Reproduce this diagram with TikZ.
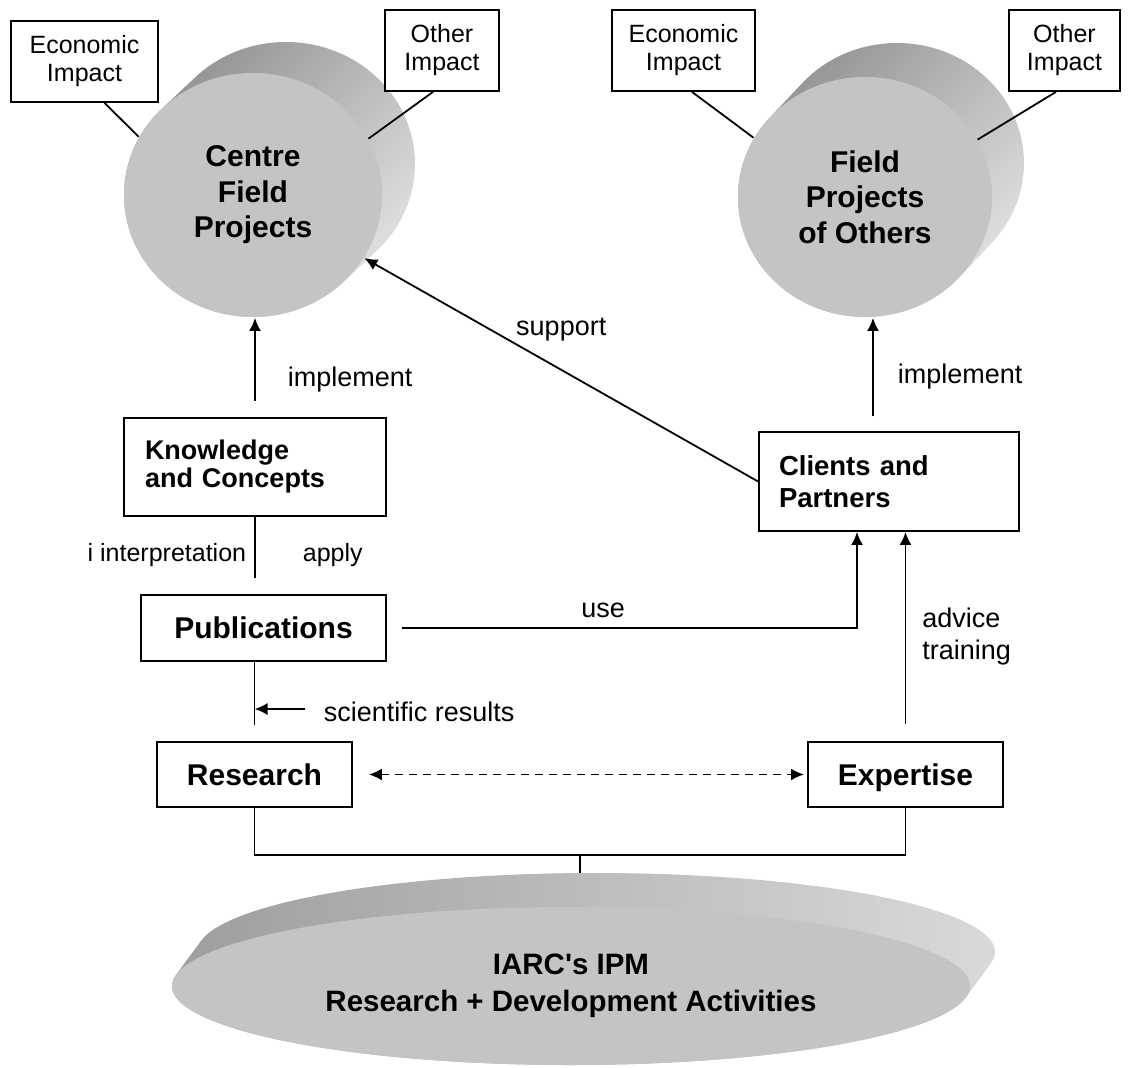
\documentclass[tikz,border=0pt]{standalone}
\usepackage{fontspec}
\setmainfont{Liberation Sans}
\usetikzlibrary{arrows.meta,shapes.geometric}
\definecolor{facegray}{gray}{0.77}
\definecolor{rimdark}{gray}{0.56}
\definecolor{rimlight}{gray}{0.9}
\definecolor{banddark}{gray}{0.61}
\definecolor{bandlight}{gray}{0.86}
\newcommand{\drumside}[8][top color=rimdark, bottom color=rimlight, shading angle=45]{%
  \shade[#1]
    (#2+#6,#3-#7) ++(#8:#4 and #5)
    arc[start angle=#8, end angle=#8+180, x radius=#4, y radius=#5]
    -- ++(-#6,#7)
    arc[start angle=#8+180, end angle=#8+360, x radius=#4, y radius=#5] -- cycle;}
\tikzset{
  box/.style={draw, fill=white, inner sep=0pt, align=center},
  impact/.style={box, font=\fontsize{25}{28}\selectfont},
  title/.style={box, font=\bfseries\fontsize{30}{35}\selectfont},
  disc/.style={ellipse, fill=facegray, inner sep=0pt, align=center, font=\bfseries\fontsize{30}{35.5}\selectfont},
  lbl/.style={inner sep=0pt, font=\fontsize{27}{32}\selectfont},
  smalllbl/.style={inner sep=0pt, font=\fontsize{25}{28}\selectfont}
}

\begin{document}
\begin{tikzpicture}[x=1pt,y=-1pt,>={Latex[length=13pt,width=12pt]},line width=1.8pt]
   \useasboundingbox (0,0) rectangle (1136,1068);

   \drumside{253}{195}{129}{122}{33}{31}{225.2}
   \node [disc, minimum width=258pt, minimum height=244pt] (centre) at (253,195) {Centre\\Field\\Projects};
   \drumside{865}{197}{127}{120}{32}{34}{221.6}
   \node [disc, minimum width=254pt, minimum height=240pt] (others) at (865,197) {Field\\Projects\\of Others};
   \drumside[left color=banddark, middle color=banddark, right color=bandlight]{571}{986}{399}{79}{25}{34}{188.3}
   \node [disc, minimum width=798pt, minimum height=158pt, font=\bfseries\fontsize{29.5}{37}\selectfont] (iarc) at (571,986) {IARC\textquotesingle s IPM\\Research + Development Activities};

   \node [impact, minimum width=147pt, minimum height=81pt] (econA) at (84.5,61.5) {Economic\\Impact};
   \node [impact, minimum width=114pt, minimum height=81pt] (otherA) at (442,50.5) {Other\\Impact};
   \node [impact, minimum width=143pt, minimum height=81pt] (econB) at (683.5,50.5) {Economic\\Impact};
   \node [impact, minimum width=111pt, minimum height=81pt] (otherB) at (1064.5,50.5) {Other\\Impact};

   \node [title, minimum width=262pt, minimum height=98pt, text width=220pt, align=left, font=\bfseries\fontsize{27}{28}\selectfont] (know) at (255,467) {Knowledge\\and Concepts};
   \node [title, minimum width=260pt, minimum height=99pt, text width=220pt, align=left, font=\bfseries\fontsize{27.5}{32}\selectfont] (client) at (889,481.5) {Clients and\\Partners};
   \node [title, minimum width=245pt, minimum height=66pt] (pub) at (263.5,628) {Publications};
   \node [title, minimum width=195pt, minimum height=65pt, text height=22pt, text depth=0pt] (res) at (254.5,774.5) {Research};
   \node [title, minimum width=195pt, minimum height=65pt, text height=22pt, text depth=0pt] (expt) at (905.5,774.5) {Expertise};
   \node [lbl, anchor=west] (sci) at (323,712) {scientific results};
   \coordinate (join) at (580,855);

   \draw ([xshift=20pt]econA.south) -- (centre.153);
   \draw ([xshift=-9pt]otherA.south) -- (centre.26);
   \draw ([xshift=8.5pt]econB.south) -- (others.152);
   \draw ([xshift=-8.5pt]otherB.south) -- (others.27);

   \draw [->, shorten <=16pt] (know.north) -- node[lbl, pos=0.38, right=32pt] (implA) {implement} (know.north |- centre.south);
   \draw [->, shorten <=15pt] ([xshift=-16pt]client.north) -- node[lbl, pos=0.48, right=24pt] (implB) {implement} ([xshift=-16pt]client.north |- others.south);
   \draw [->] (client.west) -- node[lbl, pos=0.5, yshift=40pt] (sup) {support} (centre);
   \draw [shorten >=16pt] (know.south) -- node[smalllbl, left=8pt] (interp) {i interpretation} node[smalllbl, right=47pt] (apply) {apply} (know.south |- pub.north);
   \draw [shorten >=16pt] (pub.south -| res.north) -- (res.north);
   \draw [->] ([xshift=-18pt,yshift=3pt]sci.west) -- ([yshift=3pt]sci.west -| res.north);
   \draw [->, shorten <=15pt] (pub.east) -| node[lbl, pos=0.23, above=9pt] (use) {use} ([xshift=-32pt]client.south);
   \draw [->, shorten <=17pt] (expt.north) -- node[lbl, pos=0.5, right=16pt, align=left] (advice) {advice\\training} (expt.north |- client.south);
   \draw [<->, dash pattern=on 8pt off 6pt, shorten <=16pt, shorten >=3pt] (res.east) -- (expt.west);
   \draw (res.south) |- (join) -| (expt.south);
   \draw (join) -- ++(0,18);
\end{tikzpicture}
\end{document}
